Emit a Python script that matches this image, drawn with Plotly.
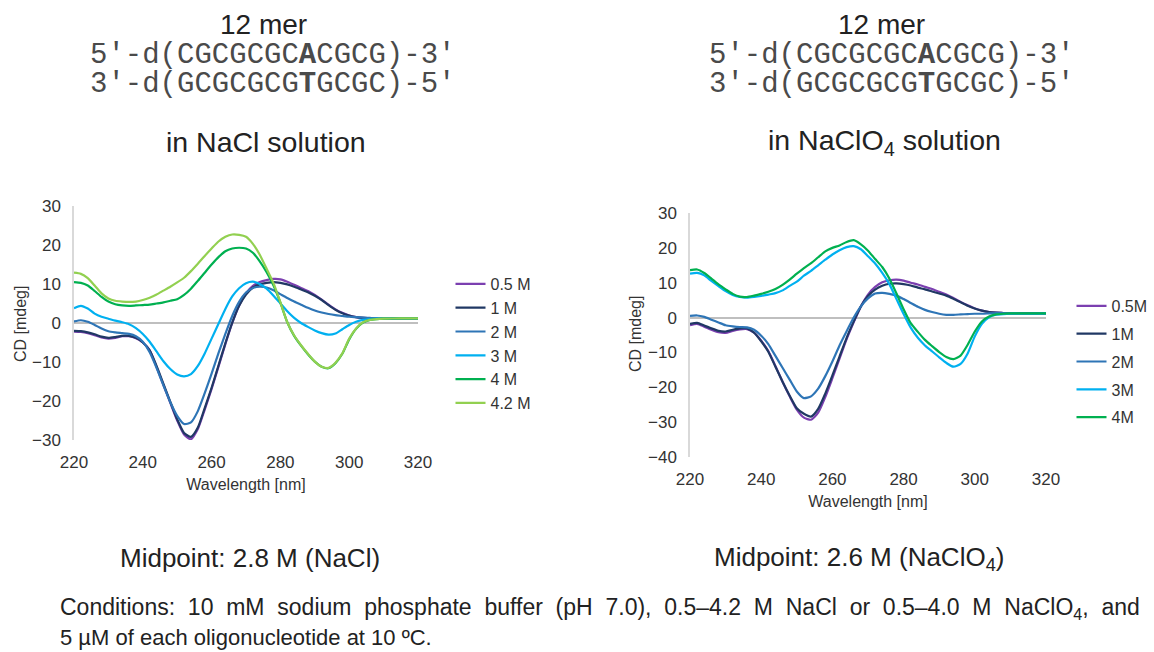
import plotly.graph_objects as go

W, H = 1154, 652

WAVELENGTH = list(range(220, 311, 2)) + [315, 320]

# ---- NaCl panel (left) ----
NACL_LABELS = ["0.5 M", "1 M", "2 M", "3 M", "4 M", "4.2 M"]
NACL_05 = [-2.2, -2.3, -2.6, -3.1, -3.7, -4.0, -3.8, -3.4, -3.4, -3.9,
           -5.0, -7.0, -11.3, -15.9, -20.5, -25.0, -28.6, -29.8, -27.2, -22.2,
           -16.9, -11.2, -5.4, 0.0, 4.5, 7.6, 9.5, 10.5, 11.0, 11.3,
           11.2, 10.6, 9.8, 9.0, 8.2, 7.2, 6.0, 4.7, 3.5, 2.6,
           1.9, 1.5, 1.3, 1.2, 1.1, 1.1, 1.1, 1.1]
NACL_1 = [-2.0, -2.1, -2.4, -2.9, -3.5, -3.8, -3.6, -3.3, -3.3, -3.8,
          -5.0, -7.0, -11.0, -15.6, -20.2, -24.7, -28.2, -29.2, -26.8, -21.8,
          -16.6, -10.9, -5.2, 0.1, 4.4, 7.3, 9.1, 9.9, 10.3, 10.5,
          10.3, 9.9, 9.3, 8.6, 7.9, 7.0, 5.9, 4.6, 3.4, 2.5,
          1.9, 1.5, 1.3, 1.2, 1.1, 1.1, 1.1, 1.1]
NACL_2 = [0.4, 0.7, 0.3, -0.5, -1.4, -2.1, -2.4, -2.6, -2.8, -3.4,
          -4.8, -7.5, -11.5, -16.0, -20.3, -23.8, -25.9, -25.5, -22.6, -18.0,
          -13.0, -7.7, -2.8, 1.8, 5.4, 7.8, 9.0, 9.3, 9.1, 8.4,
          7.4, 6.4, 5.5, 4.7, 3.9, 3.2, 2.7, 2.3, 2.0, 1.8,
          1.6, 1.5, 1.4, 1.3, 1.2, 1.2, 1.2, 1.2]
NACL_3 = [3.8, 4.4, 3.7, 2.4, 1.6, 1.1, 0.6, 0.2, -0.3, -1.3,
          -2.8, -4.8, -7.3, -9.8, -11.8, -13.2, -13.7, -13.1, -11.0, -7.8,
          -4.0, -0.2, 3.6, 6.8, 8.9, 10.2, 10.6, 10.0, 8.8, 7.0,
          5.0, 3.0, 1.3, 0.0, -1.0, -1.9, -2.6, -3.0, -2.7, -1.6,
          -0.5, 0.3, 0.8, 1.0, 1.1, 1.1, 1.2, 1.2]
NACL_4 = [10.5, 10.3, 9.6, 8.2, 6.7, 5.5, 4.8, 4.5, 4.4, 4.5,
          4.6, 4.7, 5.0, 5.3, 5.7, 6.1, 7.2, 8.8, 10.8, 12.9,
          15.0, 16.9, 18.4, 19.1, 19.3, 19.1, 18.0, 15.8, 13.0, 9.6,
          5.2, 0.2, -3.3, -5.8, -8.0, -9.9, -11.2, -11.6, -10.3, -7.9,
          -4.2, -1.5, 0.1, 0.8, 1.0, 1.1, 1.2, 1.2]
NACL_42 = [12.9, 12.6, 11.5, 9.6, 7.6, 6.3, 5.7, 5.5, 5.4, 5.5,
           5.9, 6.5, 7.3, 8.3, 9.3, 10.4, 11.6, 13.3, 15.2, 17.2,
           19.1, 20.9, 22.1, 22.7, 22.6, 22.1, 20.3, 17.5, 13.9, 10.2,
           5.3, 0.2, -3.2, -5.7, -7.9, -9.9, -11.2, -11.5, -10.2, -7.8,
           -4.0, -1.4, 0.2, 0.8, 1.0, 1.1, 1.2, 1.2]

# ---- NaClO4 panel (right) ----
NACLO4_LABELS = ["0.5M", "1M", "2M", "3M", "4M"]
NACLO4_05 = [-2.2, -1.8, -2.6, -3.5, -4.2, -4.4, -3.8, -3.4, -3.3, -4.3,
             -6.6, -9.6, -13.9, -18.4, -22.6, -26.4, -28.7, -29.3, -27.3, -22.8,
             -17.4, -11.8, -6.2, -1.3, 3.2, 6.6, 8.8, 10.1, 10.7, 10.9,
             10.6, 10.0, 9.5, 8.8, 8.2, 7.4, 6.6, 5.6, 4.5, 3.5,
             2.6, 2.0, 1.6, 1.4, 1.3, 1.2, 1.2, 1.2]
NACLO4_1 = [-1.8, -1.5, -2.3, -3.1, -3.8, -4.0, -3.5, -3.1, -3.1, -4.3,
            -6.8, -9.8, -14.1, -18.4, -22.4, -26.0, -27.6, -28.4, -26.2, -21.8,
            -16.6, -11.2, -5.8, -1.1, 3.2, 6.2, 8.0, 9.1, 9.7, 9.8,
            9.6, 9.2, 8.6, 8.1, 7.5, 6.9, 6.3, 5.4, 4.4, 3.4,
            2.6, 2.0, 1.6, 1.4, 1.3, 1.2, 1.2, 1.2]
NACLO4_2 = [0.5, 0.6, 0.2, -0.6, -1.4, -2.2, -2.5, -2.7, -2.8, -3.5,
            -5.2, -7.6, -11.0, -14.4, -17.8, -21.2, -23.1, -22.6, -20.4, -16.8,
            -12.6, -8.0, -3.9, 0.0, 3.2, 5.5, 6.9, 7.1, 6.8, 6.3,
            5.3, 4.2, 3.1, 2.2, 1.6, 1.1, 0.8, 0.8, 0.9, 1.0,
            1.1, 1.1, 1.2, 1.3, 1.3, 1.3, 1.2, 1.2]
NACLO4_3 = [12.6, 12.8, 12.1, 10.5, 9.0, 7.6, 6.5, 5.9, 5.7, 5.9,
            6.2, 6.6, 7.0, 7.8, 9.1, 10.3, 12.0, 13.4, 15.0, 16.6,
            18.1, 19.3, 20.2, 20.5, 19.6, 17.6, 15.5, 12.8, 9.6, 5.3,
            1.0, -2.9, -5.8, -8.0, -9.7, -11.4, -13.0, -14.1, -13.3, -10.3,
            -5.4, -1.8, 0.1, 0.8, 1.0, 1.1, 1.1, 1.2]
NACLO4_4 = [13.6, 13.8, 12.8, 11.2, 9.5, 8.1, 6.8, 6.0, 5.9, 6.3,
            6.8, 7.4, 8.2, 9.4, 10.9, 12.6, 14.2, 15.6, 17.3, 19.0,
            20.0, 20.7, 21.7, 22.2, 21.0, 19.2, 16.8, 14.5, 11.2, 6.9,
            2.4, -1.6, -4.1, -6.4, -8.2, -9.9, -11.3, -11.9, -10.9, -7.8,
            -4.0, -1.1, 0.3, 0.9, 1.1, 1.2, 1.2, 1.2]

COLORS = ["#7B3FB0", "#203864", "#2E75B6", "#00B0F0", "#00B050", "#92D050"]

X_TICKS = [220, 240, 260, 280, 300, 320]
Y_TICKS_L = [-30, -20, -10, 0, 10, 20, 30]
Y_TICKS_R = [-40, -30, -20, -10, 0, 10, 20, 30]


def px(x):
    return x / W


def py(y):
    return 1 - y / H


fig = go.Figure()

left_series = [NACL_05, NACL_1, NACL_2, NACL_3, NACL_4, NACL_42]
for i, (lab, ys) in enumerate(zip(NACL_LABELS, left_series)):
    fig.add_trace(go.Scatter(
        x=WAVELENGTH, y=ys, name=lab, mode="lines",
        line=dict(color=COLORS[i], width=2.2, shape="spline", smoothing=0.6),
        xaxis="x", yaxis="y", legend="legend", legendgroup="L" + lab,
    ))

right_series = [NACLO4_05, NACLO4_1, NACLO4_2, NACLO4_3, NACLO4_4]
for i, (lab, ys) in enumerate(zip(NACLO4_LABELS, right_series)):
    fig.add_trace(go.Scatter(
        x=WAVELENGTH, y=ys, name=lab, mode="lines",
        line=dict(color=COLORS[i], width=2.2, shape="spline", smoothing=0.6),
        xaxis="x2", yaxis="y2", legend="legend2", legendgroup="R" + lab,
    ))

FONT = "Liberation Sans, Arial, sans-serif"
MONO = "Liberation Mono, Courier New, monospace"
TXT = "#222222"
TICKC = "#333333"

xcommon = dict(range=[220, 320], tickvals=X_TICKS, showgrid=False, zeroline=False,
               showline=False, ticks="outside", ticklen=7, automargin=False,
               tickcolor="rgba(0,0,0,0)", tickfont=dict(family=FONT, size=17, color=TICKC),
               title=dict(text="Wavelength [nm]", font=dict(family=FONT, size=16, color=TICKC),
                          standoff=7))
ycommon = dict(showgrid=False, zeroline=True, zerolinecolor="#BFBFBF", zerolinewidth=2,
               showline=True, linecolor="#D9D9D9", linewidth=1.5, automargin=False,
               ticks="outside", ticklen=8, tickcolor="rgba(0,0,0,0)",
               tickfont=dict(family=FONT, size=17, color=TICKC))

fig.update_layout(
    width=W, height=H, autosize=False,
    margin=dict(l=0, r=0, t=0, b=0, autoexpand=False),
    paper_bgcolor="white", plot_bgcolor="white",
    xaxis=dict(domain=[px(74), px(418)], anchor="y", **xcommon),
    yaxis=dict(domain=[py(440), py(206)], range=[-30, 30], tickvals=Y_TICKS_L,
               anchor="x", **ycommon),
    xaxis2=dict(domain=[px(690), px(1046)], anchor="y2", **xcommon),
    yaxis2=dict(domain=[py(457), py(213)], range=[-40, 30], tickvals=Y_TICKS_R,
                anchor="x2", **ycommon),
    legend=dict(x=px(450.5), y=py(267), xanchor="left", yanchor="top",
                font=dict(family=FONT, size=16, color=TICKC), bgcolor="rgba(0,0,0,0)",
                tracegroupgap=0, itemwidth=30),
    legend2=dict(x=px(1071.5), y=py(289), xanchor="left", yanchor="top",
                 font=dict(family=FONT, size=16, color=TICKC), bgcolor="rgba(0,0,0,0)",
                 tracegroupgap=4, itemwidth=30),
)

ann = []


def text(x, y, s, size, family=FONT, color=TXT, xanchor="center", angle=0):
    ann.append(dict(x=px(x), y=py(y), xref="paper", yref="paper", text=s,
                    showarrow=False, xanchor=xanchor, yanchor="middle", textangle=angle,
                    font=dict(family=family, size=size, color=color)))


SEQ1 = "5′-d(CGCGCGC<b>A</b>CGCG)-3′"
SEQ2 = "3′-d(GCGCGCG<b>T</b>GCGC)-5′"

for cx, scx, salt in [(263, 272, "in NaCl solution"),
                      (881, 891, "in NaClO<sub>4</sub> solution")]:
    text(cx, 24, "12 mer", 28)
    text(scx, 56, SEQ1, 29, family=MONO, color="#4a4a4a")
    text(scx, 84, SEQ2, 29, family=MONO, color="#4a4a4a")
    text(cx + 3, 142, salt, 28.5)

# y-axis titles
text(20, 324, "CD [mdeg]", 16, color=TICKC, angle=-90)
text(635, 334, "CD [mdeg]", 16, color=TICKC, angle=-90)

text(250, 558, "Midpoint: 2.8 M (NaCl)", 26)
text(859, 558, "Midpoint: 2.6 M (NaClO<sub>4</sub>)", 26)
text(58, 608, "Conditions:  10  mM  sodium  phosphate  buffer  (pH  7.0),  0.5–4.2  M  NaCl  or  "
              "0.5–4.0  M  NaClO<sub>4</sub>,  and", 23, xanchor="left")
text(58, 637, "5 µM of each oligonucleotide at 10 ºC.", 22, xanchor="left")

fig.update_layout(annotations=ann)

fig.write_html("out.html", config={"displayModeBar": False},
               post_script="document.body.style.margin='0px';")
